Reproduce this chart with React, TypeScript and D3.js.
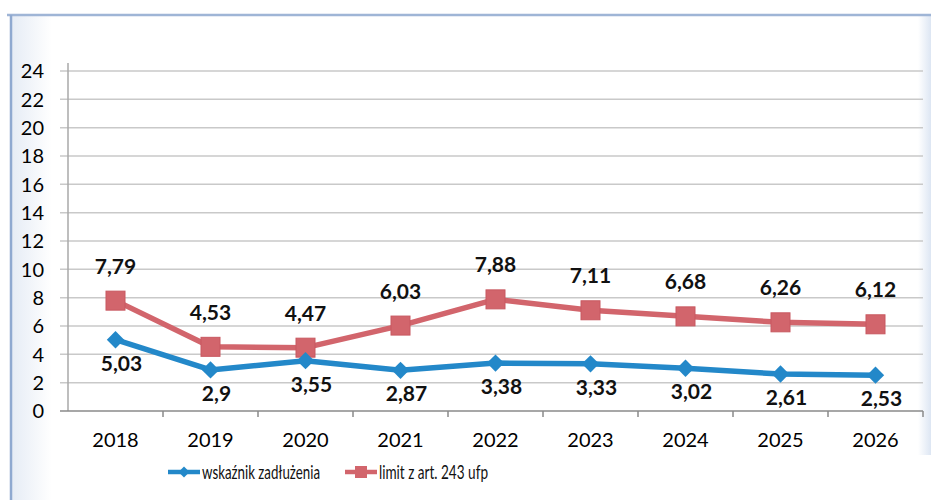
import React from 'react';
import * as d3 from 'd3';

// chart data
const years = ['2018', '2019', '2020', '2021', '2022', '2023', '2024', '2025', '2026'];
const debtRatio = [5.03, 2.9, 3.55, 2.87, 3.38, 3.33, 3.02, 2.61, 2.53];
const limit243 = [7.79, 4.53, 4.47, 6.03, 7.88, 7.11, 6.68, 6.26, 6.12];
const yTicks = [0, 2, 4, 6, 8, 10, 12, 14, 16, 18, 20, 22, 24];
const seriesNames = ['wskaźnik zadłużenia', 'limit z art. 243 ufp'];

const W = 931;
const H = 500;
const BLUE = '#2388c9';
const RED = '#d2656c';
const GRID = '#c9c9c9';
const FONT = 'Lato, "Open Sans", sans-serif';

const fmt = (v: number) => String(v).replace('.', ',');

export default function App() {
  const margin = { top: 71, right: 8, bottom: 89, left: 68 };

  const x = d3.scaleBand<string>()
    .domain(years)
    .range([margin.left, W - margin.right])
    .paddingInner(0)
    .paddingOuter(0);

  const y = d3.scaleLinear()
    .domain([0, 24])
    .range([H - margin.bottom, margin.top]);

  const cx = (d: string) => (x(d) ?? 0) + x.bandwidth() / 2;

  const line = d3.line<number>()
    .x((_, i) => cx(years[i]))
    .y(d => y(d));

  // Excel-style diamond: a square turned by 45 degrees
  const diamond = d3.symbol().type(d3.symbolSquare).size(150);
  const legendDiamond = d3.symbol().type(d3.symbolSquare).size(60);

  const x0 = margin.left;
  const x1 = W - margin.right;
  const yBase = y(0);

  return (
    <svg
      width={W}
      height={H}
      style={{ position: 'absolute', left: 0, top: 0, background: '#fff' }}
      fontFamily={FONT}
    >
      <defs>
        <linearGradient id="edge" x1="0" x2="1" y1="0" y2="0">
          <stop offset="0" stopColor="#ffffff" />
          <stop offset="1" stopColor="#dde6f3" />
        </linearGradient>
        <linearGradient id="edgeL" x1="0" x2="1" y1="0" y2="0">
          <stop offset="0" stopColor="#e6ecf5" />
          <stop offset="1" stopColor="#ffffff" />
        </linearGradient>
      </defs>

      {/* scanned frame */}
      <rect x={12} y={15} width={40} height={H - 15} fill="url(#edgeL)" />
      <rect x={918} y={15} width={13} height={H - 60} fill="url(#edge)" />
      <line x1={7} x2={W} y1={15} y2={15} stroke="#9fb5d6" strokeWidth={2.5} />
      <line x1={11} x2={11} y1={15} y2={H} stroke="#8fa9d0" strokeWidth={2.5} />

      {/* horizontal grid */}
      {yTicks.filter(t => t > 0).map(t => (
        <line key={t} x1={x0 - 8} x2={x1} y1={y(t)} y2={y(t)} stroke={GRID} strokeWidth={1.5} />
      ))}

      {/* y axis */}
      <line x1={x0} x2={x0} y1={y(24) - 8} y2={yBase} stroke="#a8a8a8" strokeWidth={1.5} />
      {yTicks.map(t => (
        <text key={t} x={44} y={y(t)} dy="0.36em" textAnchor="end" fontSize={20} fill="#000">
          {t}
        </text>
      ))}

      {/* x axis */}
      <line x1={x0 - 8} x2={x1} y1={yBase} y2={yBase} stroke="#8a8a8a" strokeWidth={1.5} />
      {years.map(yr => (
        <line
          key={'t' + yr}
          x1={(x(yr) ?? 0) + x.bandwidth()}
          x2={(x(yr) ?? 0) + x.bandwidth()}
          y1={yBase}
          y2={yBase + 6}
          stroke="#8a8a8a"
          strokeWidth={1.5}
        />
      ))}
      {years.map(yr => (
        <text key={yr} x={cx(yr)} y={447} textAnchor="middle" fontSize={20} fill="#000">
          {yr}
        </text>
      ))}

      {/* limit series */}
      <path d={line(limit243) ?? ''} fill="none" stroke={RED} strokeWidth={5.5} strokeLinejoin="round" />
      {limit243.map((v, i) => (
        <rect
          key={'r' + i}
          x={cx(years[i]) - 9.5}
          y={y(v) - 9.5}
          width={19}
          height={19}
          fill={RED}
          stroke="#c85860"
          strokeWidth={1}
        />
      ))}

      {/* debt ratio series */}
      <path d={line(debtRatio) ?? ''} fill="none" stroke={BLUE} strokeWidth={5.5} strokeLinejoin="round" />
      {debtRatio.map((v, i) => (
        <path
          key={'b' + i}
          d={diamond() ?? ''}
          transform={`translate(${cx(years[i])},${y(v)}) rotate(45)`}
          fill={BLUE}
        />
      ))}

      {/* data labels */}
      {limit243.map((v, i) => (
        <text
          key={'lr' + i}
          x={cx(years[i])}
          y={y(v) - 27}
          textAnchor="middle"
          fontSize={21}
          fontWeight={700}
          fill="#111"
        >
          {fmt(v)}
        </text>
      ))}
      {debtRatio.map((v, i) => (
        <text
          key={'lb' + i}
          x={cx(years[i]) + 6}
          y={y(v) + 31}
          textAnchor="middle"
          fontSize={21}
          fontWeight={700}
          fill="#111"
        >
          {fmt(v)}
        </text>
      ))}

      {/* legend */}
      <g transform="translate(168,472)">
        <line x1={0} x2={32} y1={0} y2={0} stroke={BLUE} strokeWidth={4.5} />
        <path d={legendDiamond() ?? ''} transform="translate(16,0) rotate(45)" fill={BLUE} />
        <text x={34} y={0} dy="0.36em" fontSize={19} fill="#111" textLength={118} lengthAdjust="spacingAndGlyphs">
          {seriesNames[0]}
        </text>
        <line x1={177} x2={209} y1={0} y2={0} stroke={RED} strokeWidth={4.5} />
        <rect x={187} y={-6} width={12} height={12} fill={RED} />
        <text x={211} y={0} dy="0.36em" fontSize={19} fill="#111" textLength={109} lengthAdjust="spacingAndGlyphs">
          {seriesNames[1]}
        </text>
      </g>
    </svg>
  );
}
